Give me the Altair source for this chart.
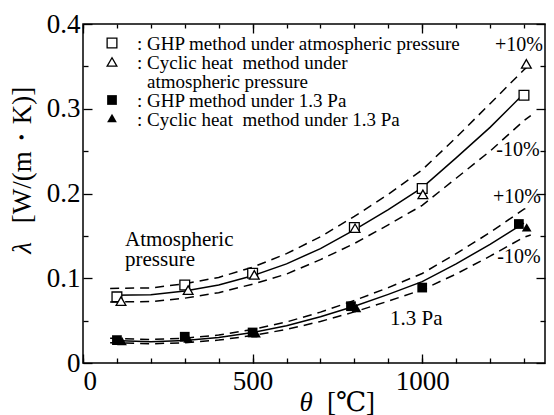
import altair as alt
import pandas as pd

# ---------------- data ----------------
curve_x = [90, 200, 300, 400, 500, 600, 700, 800, 900, 1000, 1100, 1200, 1300]
atm_fit = [0.080, 0.0805, 0.085, 0.092, 0.103, 0.117, 0.135, 0.157, 0.181, 0.207, 0.242, 0.278, 0.318]
pa_fit = [0.0265, 0.0252, 0.0265, 0.030, 0.036, 0.044, 0.0545, 0.067, 0.081, 0.096, 0.117, 0.140, 0.165]

dash_x = [80, 200, 300, 400, 500, 600, 700, 800, 900, 1000, 1100, 1200, 1300, 1320]
atm_upper = [0.088, 0.0886, 0.0935, 0.101, 0.113, 0.129, 0.149, 0.173, 0.199, 0.228, 0.266, 0.306, 0.346, 0.353]
atm_lower = [0.072, 0.0725, 0.0765, 0.083, 0.093, 0.105, 0.122, 0.141, 0.163, 0.186, 0.218, 0.250, 0.286, 0.292]
pa_upper = [0.0291, 0.0277, 0.0292, 0.033, 0.0396, 0.0484, 0.060, 0.0737, 0.089, 0.1056, 0.129, 0.154, 0.1815, 0.185]
pa_lower = [0.0239, 0.0227, 0.0239, 0.027, 0.0324, 0.0396, 0.049, 0.0603, 0.073, 0.0864, 0.105, 0.126, 0.1485, 0.151]

ghp_atm_x = [100, 300, 500, 800, 1000, 1300]
ghp_atm_y = [0.078, 0.092, 0.106, 0.160, 0.206, 0.316]
cyc_atm_x = [112, 310, 505, 802, 1002, 1307]
cyc_atm_y = [0.073, 0.086, 0.104, 0.159, 0.199, 0.353]
ghp_pa_x = [100, 300, 500, 790, 1000, 1285]
ghp_pa_y = [0.027, 0.031, 0.036, 0.067, 0.089, 0.164]
cyc_pa_x = [115, 310, 510, 806, 1308]
cyc_pa_y = [0.026, 0.029, 0.035, 0.065, 0.160]

x_major = [0, 500, 1000]
x_minor = [0, 100, 200, 300, 400, 500, 600, 700, 800, 900, 1000, 1100, 1200, 1300]
y_major = [0, 0.1, 0.2, 0.3, 0.4]
y_minor = [0.05, 0.15, 0.25, 0.35]

legend_labels = [": GHP method under atmospheric pressure",
                 ": Cyclic heat\u00a0 method under",
                 "atmospheric pressure",
                 ": GHP method under 1.3 Pa",
                 ": Cyclic heat\u00a0 method under 1.3 Pa"]

# ---------------- tables ----------------
solid_df = pd.concat([
    pd.DataFrame({"x": curve_x, "y": atm_fit, "s": "atm"}),
    pd.DataFrame({"x": curve_x, "y": pa_fit, "s": "pa"}),
])
dash_df = pd.concat([
    pd.DataFrame({"x": dash_x, "y": atm_upper, "s": "au"}),
    pd.DataFrame({"x": dash_x, "y": atm_lower, "s": "al"}),
    pd.DataFrame({"x": dash_x, "y": pa_upper, "s": "pu"}),
    pd.DataFrame({"x": dash_x, "y": pa_lower, "s": "pl"}),
])
ghp_atm = pd.DataFrame({"x": ghp_atm_x, "y": ghp_atm_y})
cyc_atm = pd.DataFrame({"x": cyc_atm_x, "y": cyc_atm_y})
ghp_pa = pd.DataFrame({"x": ghp_pa_x, "y": ghp_pa_y})
cyc_pa = pd.DataFrame({"x": cyc_pa_x, "y": cyc_pa_y})
one = pd.DataFrame({"a": [0]})

W, H = 462, 339
xs = alt.Scale(domain=[0, 1362], nice=False, zero=False)
ys = alt.Scale(domain=[0, 0.4], nice=False)
SERIF = "Liberation Serif, Times New Roman, DejaVu Serif, serif"

def ax(orient, values, size, labels=False, pad=0, **kw):
    return alt.Axis(orient=orient, values=values, tickSize={"expr": str(-size)},
                    labels=labels, labelPadding=pad, title=None, **kw)

ax_xb_major = ax("bottom", x_major, 9, labels=True, pad=14, format="d")
ax_xb_minor = ax("bottom", x_minor, 5)
ax_xt_major = ax("top", x_major, 9)
ax_xt_minor = ax("top", x_minor, 4)
ax_yl_major = ax("left", y_major, 9, labels=True, pad=12,
                 labelExpr="datum.value == 0 ? '0' : format(datum.value, '.1f')")
ax_yl_minor = ax("left", y_minor, 5)
ax_yr_major = ax("right", y_major, 9)
ax_yr_minor = ax("right", y_minor, 5)

def XY(axx=None, axy=None):
    return dict(x=alt.X("x:Q", scale=xs, axis=axx), y=alt.Y("y:Q", scale=ys, axis=axy))

solid = alt.Chart(solid_df).mark_line(color="black", strokeWidth=1.5).encode(
    detail="s:N", **XY(ax_xb_major, ax_yl_major))
dashed = alt.Chart(dash_df).mark_line(color="black", strokeWidth=1.5, strokeDash=[9, 6]).encode(
    detail="s:N", **XY(ax_xb_minor, ax_yl_minor))

MS = 95
sq_open = alt.Chart(ghp_atm).mark_point(shape="square", size=MS, filled=True, fill="white",
                                        stroke="black", strokeWidth=1.3, opacity=1).encode(
    **XY(ax_xt_major, ax_yr_major))
tri_open = alt.Chart(cyc_atm).mark_point(shape="triangle-up", size=MS, filled=True, fill="white",
                                         stroke="black", strokeWidth=1.3, opacity=1).encode(
    **XY(ax_xt_minor, ax_yr_minor))
sq_fill = alt.Chart(ghp_pa).mark_point(shape="square", size=MS, filled=True, color="black",
                                       opacity=1).encode(**XY())
tri_fill = alt.Chart(cyc_pa).mark_point(shape="triangle-up", size=MS, filled=True, color="black",
                                        opacity=1).encode(**XY())

def txt(s, px, py, size=19, align="left", style="normal", angle=0):
    kw = dict(font=SERIF, fontSize=size, align=align, baseline="middle",
              color="black", fontStyle=style)
    if angle:
        kw["angle"] = angle
    return alt.Chart(one).mark_text(**kw).encode(
        x=alt.value(px), y=alt.value(py), text=alt.value(s))

def sym(shape, filled, px, py):
    if filled:
        m = alt.Chart(one).mark_point(shape=shape, size=MS, filled=True, color="black", opacity=1)
    else:
        m = alt.Chart(one).mark_point(shape=shape, size=MS, filled=True, fill="white",
                                      stroke="black", strokeWidth=1.3, opacity=1)
    return m.encode(x=alt.value(px), y=alt.value(py))

legend = [
    sym("square", False, 29, 19),
    sym("triangle-up", False, 29, 38),
    sym("square", True, 29, 76),
    sym("triangle-up", True, 29, 94),
    txt(legend_labels[0], 54, 20),
    txt(legend_labels[1], 54, 39),
    txt(legend_labels[2], 64, 58),
    txt(legend_labels[3], 54, 77),
    txt(legend_labels[4], 54, 96),
]

notes = [
    txt("+10%", 436, 21, 20, "center"),
    txt("-10%", 435, 126, 20, "center"),
    txt("+10%", 434, 173, 20, "center"),
    txt("-10%", 436, 233, 20, "center"),
    txt("Atmospheric", 42, 216, 21),
    txt("pressure", 42, 236, 21),
    txt("1.3 Pa", 307, 295, 21),
    txt("θ", 223, 379, 27, "center", "italic"),
    txt("[℃]", 268, 379, 27, "center"),
    txt("λ", -60, 224, 27, "center", "italic", 270),
    txt("[W/(m・K)]", -60, 131, 27, "center", "normal", 270),
]

chart = alt.layer(solid, dashed, sq_open, tri_open, sq_fill, tri_fill, *legend, *notes).resolve_axis(
    x="independent", y="independent"
).properties(
    width=W, height=H,
    autosize=alt.AutoSizeParams(type="none"),
    padding={"left": 75, "top": 16, "right": 1, "bottom": 52},
).configure_view(
    stroke="black", strokeWidth=1.5
).configure_axis(
    grid=False, domain=False, tickColor="black", tickWidth=1.3,
    labelFont=SERIF, labelFontSize=27, labelColor="black",
)

chart.save("out.html", embed_options={"renderer": "svg", "actions": False})
